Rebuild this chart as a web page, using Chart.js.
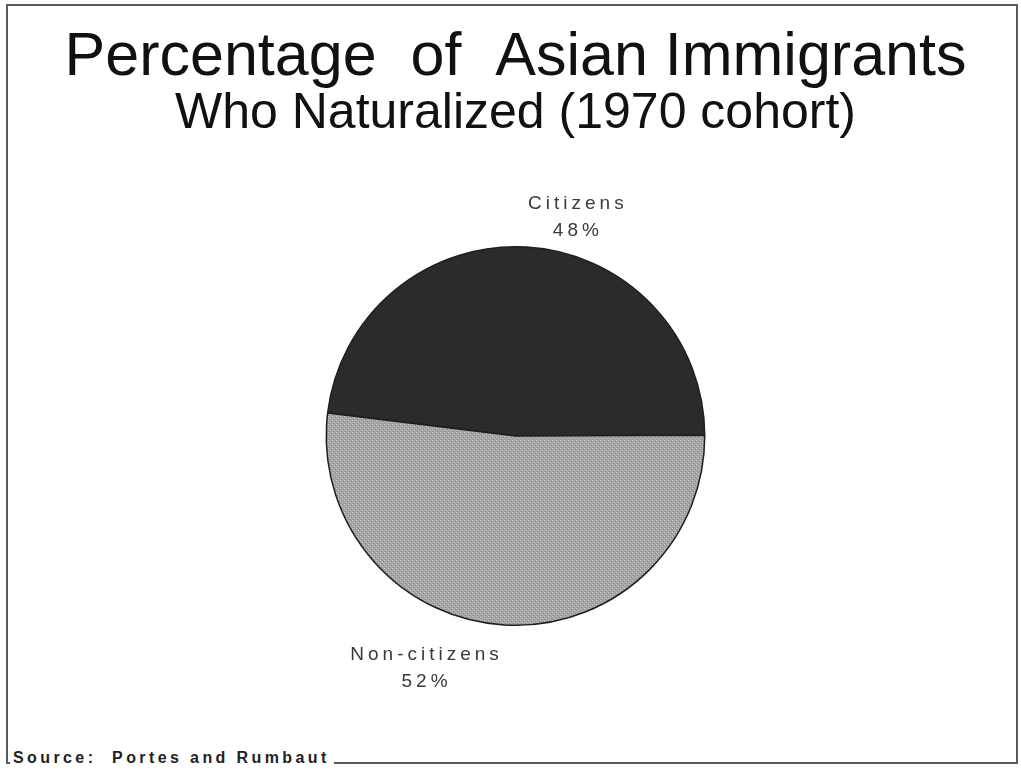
<!DOCTYPE html>
<html>
<head>
<meta charset="utf-8">
<script src="https://cdn.jsdelivr.net/npm/chart.js@4"></script>
<style>
  html, body { margin: 0; padding: 0; background: #fff; }
  #wrap { position: relative; width: 1021px; height: 772px; }
  #frame {
    position: absolute; left: 6px; top: 4px; width: 1008px; height: 756px;
    border: 2px solid #5a5a5a;
  }
  #chart { position: absolute; left: 0; top: 0; }
  #source {
    position: absolute; left: 10px; top: 749px; padding: 0 4px 0 3px;
    background: #fff; color: #222;
    font: bold 16px "Liberation Sans", Arial, sans-serif; letter-spacing: 3.4px;
  }
</style>
</head>
<body>
<div id="wrap">
  <div id="frame"></div>
  <canvas id="chart" width="1021" height="772"></canvas>
  <div id="source">Source:&nbsp; Portes and Rumbaut</div>
</div>
<script>
var categories = ['Citizens', 'Non-citizens'];
var shares = [48, 52];
var percentLabels = ['48%', '52%'];

// dotted gray texture for the light slice
function hatch() {
  var c = document.createElement('canvas');
  c.width = 4; c.height = 4;
  var g = c.getContext('2d');
  g.fillStyle = '#a5a5a5';
  g.fillRect(0, 0, 4, 4);
  g.fillStyle = '#c6c6c6';
  g.fillRect(0, 0, 1, 1);
  g.fillRect(2, 2, 1, 1);
  g.fillStyle = '#8c8c8c';
  g.fillRect(1, 3, 1, 1);
  g.fillRect(3, 1, 1, 1);
  return g.createPattern(c, 'repeat');
}

var sliceLabels = {
  id: 'sliceLabels',
  afterDatasetsDraw: function(chart, args, opts) {
    var ctx = chart.ctx;
    var arcs = chart.getDatasetMeta(0).data;
    ctx.save();
    ctx.font = '19px "Liberation Sans", Arial, sans-serif';
    ctx.letterSpacing = '4px';
    ctx.fillStyle = '#3a3a3a';
    ctx.textAlign = 'center';
    ctx.textBaseline = 'middle';
    arcs.forEach(function(arc, i) {
      var p = arc.getProps(['x', 'y', 'startAngle', 'endAngle', 'outerRadius'], true);
      var a = (p.startAngle + p.endAngle) / 2 + opts.turn[i] * Math.PI / 180;
      var r = p.outerRadius + opts.gap[i];
      var cx = p.x + Math.cos(a) * r;
      var cy = p.y + Math.sin(a) * r;
      ctx.fillText(categories[i], cx + 2, cy - 13);
      ctx.fillText(percentLabels[i], cx + 2, cy + 14);
    });
    ctx.restore();
  }
};

new Chart(document.getElementById('chart'), {
  type: 'pie',
  data: {
    labels: categories,
    datasets: [{
      data: shares,
      backgroundColor: ['#2b2b2b', hatch()],
      borderColor: '#1e1e1e',
      borderWidth: 1.5
    }]
  },
  options: {
    responsive: false,
    animation: false,
    rotation: -83,
    layout: { padding: { left: 10, right: 0, top: 0, bottom: 146 } },
    plugins: {
      legend: { display: false },
      tooltip: { enabled: false },
      title: {
        display: true,
        text: 'Percentage  of  Asian Immigrants',
        color: '#111',
        font: { family: '"Liberation Sans", Arial, sans-serif', size: 61, weight: 'normal', lineHeight: 1 },
        padding: { top: 28, bottom: 0 }
      },
      subtitle: {
        display: true,
        text: 'Who Naturalized (1970 cohort)',
        color: '#111',
        font: { family: '"Liberation Sans", Arial, sans-serif', size: 50, weight: 'normal', lineHeight: 1 },
        padding: { top: 0, bottom: 107 }
      },
      sliceLabels: { turn: [12, 18], gap: [38, 60] }
    }
  },
  plugins: [sliceLabels]
});
</script>
</body>
</html>
